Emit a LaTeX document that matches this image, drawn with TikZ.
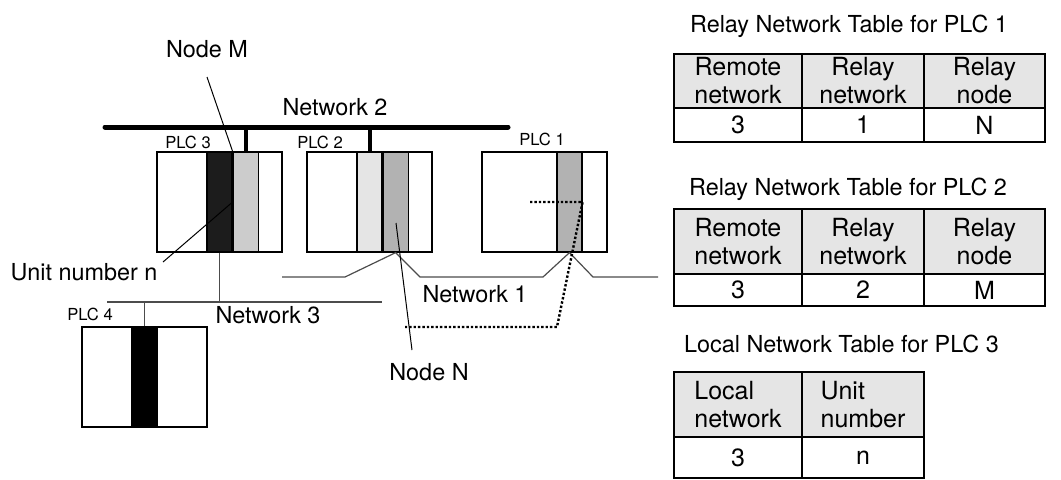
\documentclass[tikz,border=0pt]{standalone}
\usepackage{fontspec}
\setmainfont{TeX Gyre Heros}
\usepackage{tikz}
\usetikzlibrary{positioning}

\begin{document}
\begin{tikzpicture}[
  x=0.5pt, y=-0.5pt,
  font=\fontsize{11.7}{14}\selectfont,
  plc/.style={draw, line width=0.6pt, minimum width=62.5pt, minimum height=50pt, inner sep=0pt},
  slot/.style={draw, line width=0.6pt, minimum width=12.5pt, minimum height=50pt, inner sep=0pt},
  tag/.style={font=\fontsize{8.3}{10}\selectfont, anchor=base},
  lbl/.style={anchor=base},
  bus/.style={line width=2.5pt, line cap=round},
  drop/.style={line width=2pt},
  net/.style={draw=black!70, line width=0.6pt},
  lead/.style={line width=0.5pt},
  route/.style={densely dotted, line width=1.2pt},
  hcell/.style={draw, line width=1pt, fill=black!10, align=center, inner sep=0pt, font=\fontsize{12.5}{14}\selectfont},
  dcell/.style={hcell, fill=white},
  node distance=0pt,
]
  \useasboundingbox (0,0) rectangle (1061,479);

  % PLCs and their units
  \node[plc] (plc3) at (219.5,202) {};
  \node[slot, fill=black!89] (u3a) at (plc3.center) {};
  \node[slot, fill=black!20, right=of u3a] (u3b) {};
  \node[plc] (plc2) at (369.5,202) {};
  \node[slot, fill=black!10] (u2a) at (plc2.center) {};
  \node[slot, fill=black!30, right=of u2a] (u2b) {};
  \node[plc] (plc1) at (544.5,202) {};
  \node[slot, fill=black!30] (u1) at ([xshift=12.5pt]plc1.center) {};
  \node[plc] (plc4) at (144.5,377) {};
  \node[slot, fill=black] (u4) at (plc4.center) {};

  \node[tag] (t3) at (188,148) {PLC 3};
  \node[tag] (t2) at (320,148) {PLC 2};
  \node[tag] (t1) at (542,145) {PLC 1};
  \node[tag] (t4) at (90,320) {PLC 4};

  % Network 2
  \coordinate (n2w) at (105,127);
  \coordinate (n2e) at (508,127);
  \draw[bus] (n2w) -- (n2e);
  \draw[drop] (u3b.north) -- (u3b.north |- n2w);
  \draw[drop] (u2a.north) -- (u2a.north |- n2w);
  \node[lbl] (net2) at (335,115) {Network 2};

  % Network 3
  \coordinate (n3w) at (107,302);
  \coordinate (n3e) at (382,302);
  \draw[net] (n3w) -- (n3e);
  \draw[net] (u3a.south) -- (u3a.south |- n3w);
  \draw[net] (u4.north) -- (u4.north |- n3w);
  \node[lbl] (net3) at (268,323) {Network 3};

  % Network 1
  \coordinate (n1w) at (282,277);
  \coordinate (n1e) at (658,277);
  \draw[net] (n1w) -- (345,277) -- (u2b.south) -- (420,277) -- (543,277)
    -- (u1.south) -- (593,277) -- (n1e);
  \node[lbl] (net1) at (475,302) {Network 1};

  % route from PLC 1 to Node N
  \coordinate (r1) at (530,202);
  \coordinate (r2) at (405,327);
  \draw[route] (r1) -- (u1.east |- r1) -- (557,327) -- (r2);

  % leaders
  \node[lbl] (nodem) at (207,57) {Node M};
  \draw[lead] (207,77) -- (u3b.north west);
  \node[lbl] (noden) at (429,380) {Node N};
  \draw[lead] (396,223) -- (412,350);
  \node[lbl] (unitn) at (84,280) {Unit number n};
  \draw[lead] (u3a.east) -- (163,262);

  % tables
  \node[anchor=base west] (ttl1) at (683,32) {Relay Network Table for PLC 1};
  \node[anchor=base west] (ttl2) at (682,195) {Relay Network Table for PLC 2};
  \node[anchor=base west] (ttl3) at (677,352) {Local Network Table for PLC 3};

  \foreach \t/\top/\mid/\bot/\vb/\vc in {1/54/108/142/1/N, 2/209/274/306/2/M} {
    \foreach \c/\xl/\xr/\head/\val in {1/674/802/{Remote\\network}/3, 2/802/924/{Relay\\network}/\vb, 3/924/1045/{Relay\\node}/\vc} {
      \node[hcell, minimum width={(\xr-\xl)*0.5pt}, minimum height={(\mid-\top)*0.5pt}]
        (h\t\c) at ({(\xl+\xr)/2},{(\top+\mid)/2}) {\head};
      \node[dcell, minimum width={(\xr-\xl)*0.5pt}, minimum height={(\bot-\mid)*0.5pt}]
        (d\t\c) at ({(\xl+\xr)/2},{(\mid+\bot)/2}) {\val};
    }
  }

  \node[hcell, minimum width=64pt, minimum height=32.5pt, align=left] (h31) at (738,404.5) {Local\\network};
  \node[hcell, minimum width=61pt, minimum height=32.5pt, align=left] (h32) at (863,404.5) {Unit\\number};
  \node[dcell, minimum width=64pt, minimum height=20.5pt] (d31) at (738,457.5) {3};
  \node[dcell, minimum width=61pt, minimum height=20.5pt] (d32) at (863,457.5) {n};
\end{tikzpicture}
\end{document}
